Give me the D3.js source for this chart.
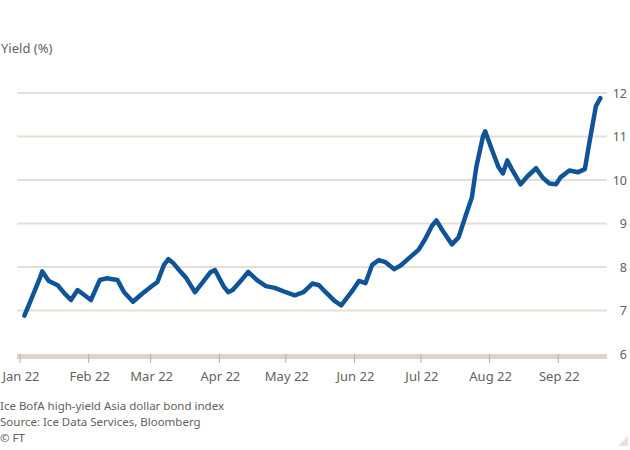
<!DOCTYPE html>
<html><head><meta charset="utf-8">
<script src="https://cdn.jsdelivr.net/npm/d3@7"></script>
<style>
body{margin:0;background:#fff;}
text{font-family:"Noto Sans",Roboto,sans-serif;fill:#66605c;}
</style></head>
<body><svg id="c" width="630" height="450"></svg>
<script>
const dates = ["2022-01-03","2022-01-06","2022-01-10","2022-01-11","2022-01-14","2022-01-18","2022-01-21","2022-01-24","2022-01-27","2022-02-02","2022-02-06","2022-02-09","2022-02-14","2022-02-17","2022-02-21","2022-02-25","2022-03-02","2022-03-04","2022-03-07","2022-03-09","2022-03-11","2022-03-14","2022-03-17","2022-03-21","2022-03-24","2022-03-28","2022-03-30","2022-04-03","2022-04-05","2022-04-07","2022-04-11","2022-04-14","2022-04-18","2022-04-22","2022-04-26","2022-05-01","2022-05-05","2022-05-09","2022-05-13","2022-05-16","2022-05-19","2022-05-23","2022-05-26","2022-05-31","2022-06-03","2022-06-06","2022-06-09","2022-06-12","2022-06-15","2022-06-19","2022-06-22","2022-06-26","2022-06-30","2022-07-03","2022-07-06","2022-07-08","2022-07-11","2022-07-15","2022-07-18","2022-07-21","2022-07-24","2022-07-26","2022-07-29","2022-07-30","2022-08-02","2022-08-05","2022-08-07","2022-08-09","2022-08-11","2022-08-15","2022-08-18","2022-08-22","2022-08-25","2022-08-28","2022-08-31","2022-09-02","2022-09-06","2022-09-10","2022-09-13","2022-09-15","2022-09-18","2022-09-20"];
const yields = [6.88,7.25,7.75,7.9,7.68,7.58,7.4,7.24,7.47,7.24,7.7,7.74,7.7,7.42,7.2,7.38,7.58,7.65,8.05,8.18,8.1,7.92,7.75,7.42,7.62,7.88,7.93,7.55,7.42,7.47,7.7,7.89,7.7,7.56,7.52,7.42,7.35,7.42,7.62,7.58,7.42,7.22,7.12,7.45,7.68,7.63,8.05,8.16,8.11,7.95,8.04,8.22,8.4,8.65,8.95,9.07,8.82,8.52,8.68,9.15,9.6,10.3,11.0,11.12,10.7,10.3,10.15,10.45,10.25,9.9,10.08,10.27,10.05,9.92,9.9,10.06,10.22,10.18,10.25,10.85,11.7,11.88];
const yTicks = [6,7,8,9,10,11,12];
const monthLabels = ["Jan 22","Feb 22","Mar 22","Apr 22","May 22","Jun 22","Jul 22","Aug 22","Sep 22"];
const title = "Yield (%)";
const footer = ["Ice BofA high-yield Asia dollar bond index","Source: Ice Data Services, Bloomberg","© FT"];

const parse = d3.timeParse("%Y-%m-%d");
const data = dates.map((d,i)=>({date:parse(d), v:yields[i]}));
const svg = d3.select("#c");
svg.append("rect").attr("width",630).attr("height",450).attr("fill","#fff");

const x = d3.scaleTime().domain([new Date(2022,0,1), new Date(2022,8,23)]).range([20,607]);
const y = d3.scaleLinear().domain([6,12]).range([354,93]);
const gridX0 = 17, gridX1 = 607;

svg.append("g").selectAll("line").data(yTicks.filter(t=>t>6)).join("line")
  .attr("x1",gridX0).attr("x2",gridX1).attr("y1",d=>y(d)).attr("y2",d=>y(d))
  .attr("stroke","#e9ded3").attr("stroke-width",2);

svg.append("rect").attr("x",gridX0).attr("y",y(6)).attr("width",gridX1-gridX0).attr("height",5).attr("fill","#ddd5cd");

svg.append("g").selectAll("text").data(yTicks).join("text")
  .attr("x",627).attr("y",d=>y(d)+4.5).attr("text-anchor","end")
  .attr("font-size",12.5).text(d=>d);

const months = d3.timeMonth.range(new Date(2022,0,1), new Date(2022,8,2));
const xg = svg.append("g");
xg.selectAll("line").data(months).join("line")
  .attr("x1",d=>x(d)).attr("x2",d=>x(d)).attr("y1",y(6)).attr("y2",y(6)+9)
  .attr("stroke","#b8afa6").attr("stroke-width",1);
xg.selectAll("text").data(months).join("text")
  .attr("x",d=>x(d)+1).attr("y",381).attr("text-anchor","middle").attr("font-size",13)
  .text((d,i)=>monthLabels[i]);

const line = d3.line().x(d=>x(d.date)).y(d=>y(d.v)).curve(d3.curveLinear);
svg.append("path").datum(data).attr("d",line).attr("fill","none")
  .attr("stroke","#0f5499").attr("stroke-width",4.5).attr("stroke-linejoin","round").attr("stroke-linecap","round");

svg.append("text").attr("x",1).attr("y",53).attr("font-size",13).text(title);

svg.append("g").selectAll("text").data(footer).join("text")
  .attr("x",0).attr("y",(d,i)=>410+i*16).attr("font-size",11.5).text(d=>d);

svg.append("path").attr("d","M618,446 L628,446 L628,436 Z").attr("fill","#f2dfd6");
</script></body></html>
